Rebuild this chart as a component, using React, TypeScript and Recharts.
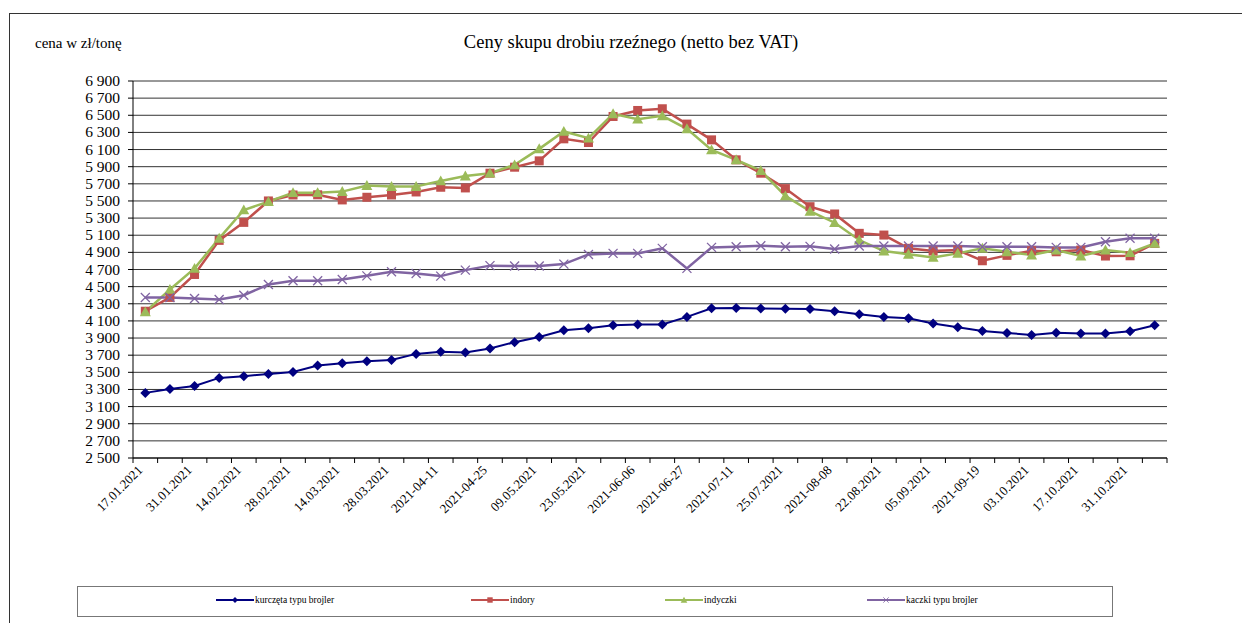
import React from 'react';
import { LineChart, Line, XAxis, YAxis, CartesianGrid } from 'recharts';

const weeks = [
  '17.01.2021', '24.01.2021', '31.01.2021', '07.02.2021', '14.02.2021', '21.02.2021',
  '28.02.2021', '07.03.2021', '14.03.2021', '21.03.2021', '28.03.2021', '2021-04-04',
  '2021-04-11', '2021-04-18', '2021-04-25', '02.05.2021', '09.05.2021', '16.05.2021',
  '23.05.2021', '30.05.2021', '2021-06-06', '2021-06-13', '2021-06-27', '2021-07-04',
  '2021-07-11', '18.07.2021', '25.07.2021', '01.08.2021', '2021-08-08', '15.08.2021',
  '22.08.2021', '29.08.2021', '05.09.2021', '12.09.2021', '2021-09-19', '26.09.2021',
  '03.10.2021', '10.10.2021', '17.10.2021', '24.10.2021', '31.10.2021', '07.11.2021',
];

const kurczeta = [
  3260, 3305, 3340, 3435, 3455, 3480, 3505, 3580, 3605, 3630, 3645, 3715, 3740, 3730,
  3778, 3852, 3912, 3990, 4015, 4050, 4058, 4058, 4147, 4247, 4250, 4245, 4243, 4238,
  4213, 4178, 4147, 4131, 4069, 4026, 3983, 3960, 3936, 3962, 3952, 3952, 3980, 4050,
];

const indory = [
  4213, 4374, 4642, 5040, 5250, 5500, 5570, 5572, 5512, 5543, 5570, 5605, 5660, 5652,
  5824, 5894, 5968, 6225, 6182, 6486, 6556, 6576, 6397, 6213, 5980, 5824, 5644, 5433,
  5348, 5122, 5102, 4947, 4915, 4927, 4802, 4865, 4919, 4907, 4927, 4857, 4860, 5005,
];

const indyczki = [
  4205, 4467, 4713, 5064, 5395, 5492, 5597, 5597, 5609, 5680, 5668, 5668, 5734, 5790,
  5824, 5921, 6108, 6311, 6233, 6517, 6455, 6494, 6342, 6096, 5980, 5854, 5559, 5380,
  5246, 5044, 4915, 4877, 4841, 4888, 4947, 4907, 4869, 4927, 4857, 4927, 4896, 5005,
];

const kaczki = [
  4374, 4374, 4362, 4350, 4400, 4525, 4568, 4568, 4584, 4626, 4673, 4654, 4623, 4693,
  4745, 4740, 4740, 4763, 4876, 4888, 4888, 4947, 4713, 4958, 4966, 4977, 4966, 4970,
  4939, 4974, 4974, 4974, 4974, 4974, 4966, 4966, 4966, 4958, 4958, 5024, 5064, 5064,
];

const yTicks = [
  2500, 2700, 2900, 3100, 3300, 3500, 3700, 3900, 4100, 4300, 4500, 4700,
  4900, 5100, 5300, 5500, 5700, 5900, 6100, 6300, 6500, 6700, 6900,
];

const data = weeks.map((week, i) => ({
  week,
  kurczeta: kurczeta[i],
  indory: indory[i],
  indyczki: indyczki[i],
  kaczki: kaczki[i],
}));

const W = 1243;
const H = 623;
const margin = { top: 81, right: 76, bottom: 46, left: 20 };
const yAxisW = 113;
const band = (W - margin.left - yAxisW - margin.right) / weeks.length;
const SERIF = 'Liberation Serif';

const NAVY = '#000080';
const RED = '#C0504D';
const GREEN = '#9BBB59';
const PURPLE = '#8064A2';

const fmt = (v: number) => `${Math.floor(v / 1000)} ${String(v % 1000).padStart(3, '0')}`;

const Diamond = ({ cx, cy, s = 5 }: any) => (
  <polygon points={`${cx},${cy - s} ${cx + s},${cy} ${cx},${cy + s} ${cx - s},${cy}`} fill={NAVY} />
);
const Square = ({ cx, cy, s = 4.5 }: any) => (
  <rect x={cx - s} y={cy - s} width={s * 2} height={s * 2} fill={RED} />
);
const Triangle = ({ cx, cy, s = 5.5 }: any) => (
  <polygon points={`${cx},${cy - s} ${cx + s},${cy + s * 0.8} ${cx - s},${cy + s * 0.8}`} fill={GREEN} />
);
const Cross = ({ cx, cy, s = 4.5 }: any) => (
  <g stroke={PURPLE} strokeWidth={1.3}>
    <line x1={cx - s} y1={cy - s} x2={cx + s} y2={cy + s} />
    <line x1={cx - s} y1={cy + s} x2={cx + s} y2={cy - s} />
  </g>
);

const dotOf = (Shape: any) => (props: any) => {
  if (props.cx == null || props.cy == null) return <g key={props.index} />;
  return <Shape key={props.index} cx={props.cx} cy={props.cy} />;
};

// Excel-style category axis: tick marks between categories, every 2nd label
const XTick = ({ x, y, payload, index }: any) => (
  <g>
    <line x1={x - band / 2} x2={x - band / 2} y1={y} y2={y + 5} stroke="#000" />
    {index === weeks.length - 1 && (
      <line x1={x + band / 2} x2={x + band / 2} y1={y} y2={y + 5} stroke="#000" />
    )}
    {index % 2 === 0 && (
      <text
        transform={`translate(${x - 2},${y + 13}) rotate(-45)`}
        textAnchor="end"
        fontFamily={SERIF}
        fontSize={13}
        fill="#000"
      >
        {payload.value}
      </text>
    )}
  </g>
);

const YTick = ({ x, y, payload }: any) => (
  <text x={x} y={y} dy={5} textAnchor="end" fontFamily={SERIF} fontSize={15.5} fill="#000">
    {fmt(payload.value)}
  </text>
);

const legendItems = [
  { name: 'kurczęta typu brojler', color: NAVY, Shape: Diamond, left: 215 },
  { name: 'indory', color: RED, Shape: Square, left: 470 },
  { name: 'indyczki', color: GREEN, Shape: Triangle, left: 664 },
  { name: 'kaczki typu brojler', color: PURPLE, Shape: Cross, left: 866 },
];

const App = () => {
  return (
    <div style={{ position: 'absolute', left: 0, top: 0, width: W, height: H, background: '#fff', fontFamily: SERIF }}>
      <div
        style={{
          position: 'absolute', left: 9, top: 13, width: 1232, height: 620,
          borderTop: '1.5px solid #333', borderLeft: '1.5px solid #333',
        }}
      />
      <div style={{ position: 'absolute', left: 35, top: 35, fontSize: 15 }}>cena w zł/tonę</div>
      <div style={{ position: 'absolute', left: 0, width: 1262, top: 32, fontSize: 18.5, textAlign: 'center' }}>
        Ceny skupu drobiu rzeźnego (netto bez VAT)
      </div>
      <LineChart width={W} height={H} data={data} margin={margin} style={{ fontFamily: SERIF }}>
        <CartesianGrid vertical={false} stroke="#333" strokeWidth={1} />
        <XAxis
          dataKey="week"
          interval={0}
          tickSize={0}
          tickMargin={0}
          height={119}
          padding={{ left: band / 2, right: band / 2 }}
          axisLine={{ stroke: '#000' }}
          tick={<XTick />}
        />
        <YAxis
          domain={[2500, 6900]}
          ticks={yTicks}
          interval={0}
          width={yAxisW}
          tickSize={5}
          tickMargin={8}
          axisLine={{ stroke: '#000' }}
          tickLine={{ stroke: '#000' }}
          tick={<YTick />}
        />
        <YAxis yAxisId="r" orientation="right" width={0} tick={false} tickLine={false} axisLine={{ stroke: '#888', strokeWidth: 1.5 }} />
        <Line dataKey="kurczeta" stroke={NAVY} strokeWidth={2} dot={dotOf(Diamond)} isAnimationActive={false} />
        <Line dataKey="indory" stroke={RED} strokeWidth={2.5} dot={dotOf(Square)} isAnimationActive={false} />
        <Line dataKey="indyczki" stroke={GREEN} strokeWidth={2.5} dot={dotOf(Triangle)} isAnimationActive={false} />
        <Line dataKey="kaczki" stroke={PURPLE} strokeWidth={2.5} dot={dotOf(Cross)} isAnimationActive={false} />
      </LineChart>
      <div
        style={{
          position: 'absolute', left: 77, top: 586, width: 1036, height: 31,
          border: '1.5px solid #777', boxSizing: 'border-box',
        }}
      >
        {legendItems.map((it) => (
          <div
            key={it.name}
            style={{
              position: 'absolute', left: it.left - 77, top: 8, display: 'flex',
              alignItems: 'center', fontSize: 9.5, whiteSpace: 'nowrap',
            }}
          >
            <svg width={38} height={10}>
              <line x1={0} x2={38} y1={5} y2={5} stroke={it.color} strokeWidth={2} />
              <g transform="translate(19,5) scale(0.6) translate(-19,-5)">
                <it.Shape cx={19} cy={5} />
              </g>
            </svg>
            <span style={{ marginLeft: 1 }}>{it.name}</span>
          </div>
        ))}
      </div>
    </div>
  );
};

export default App;
